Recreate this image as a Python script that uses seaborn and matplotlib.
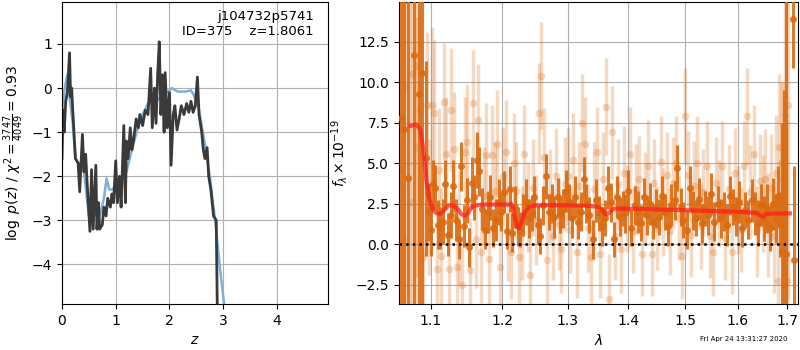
import matplotlib
matplotlib.use('Agg')
import matplotlib.pyplot as plt
import matplotlib.ticker as mticker
import seaborn as sns
import numpy as np

# p(z) curves (left panel)
z_fit = [0.00, 0.02, 0.04, 0.07, 0.10, 0.14, 0.16, 0.18, 0.20, 0.25,
         0.30, 0.33, 0.38, 0.41, 0.44, 0.47, 0.52, 0.55, 0.58, 0.63,
         0.65, 0.68, 0.70, 0.75, 0.78, 0.82, 0.85, 0.90, 0.93, 0.96,
         1.00, 1.03, 1.07, 1.10, 1.15, 1.18, 1.20, 1.23, 1.27, 1.30,
         1.33, 1.38, 1.42, 1.45, 1.50, 1.55, 1.60, 1.65, 1.68, 1.72,
         1.75, 1.78, 1.81, 1.84, 1.87, 1.90, 1.92, 1.96, 2.00, 2.03,
         2.07, 2.10, 2.14, 2.18, 2.22, 2.27, 2.32, 2.36, 2.40, 2.44,
         2.48, 2.52, 2.55, 2.60, 2.63, 2.66, 2.70, 2.73, 2.77, 2.82,
         2.87, 2.90]
logp_fit = [-1.6, -0.5, -1.0, -0.3, -0.1, 0.8, -0.2, 0.0, -0.5, -1.6,
            -1.7, -2.35, -1.05, -1.9, -1.5, -2.2, -3.25, -1.85, -3.2, -1.75,
            -3.2, -2.6, -3.2, -3.1, -2.7, -2.9, -2.5, -2.7, -2.4, -2.6,
            -1.65, -2.6, -2.0, -2.7, -0.85, -2.6, -1.2, -1.6, -0.9, -1.4,
            -1.2, -0.7, -0.9, -0.6, -0.85, -0.5, -0.6, 0.45, -0.9, 0.0,
            -0.8, 0.3, 1.05, -0.6, 0.3, -1.0, 0.35, -0.9, -0.1, -1.75,
            -0.6, -0.4, -0.95, -0.7, -0.4, -0.6, -0.35, -0.55, -0.3, -0.55,
            -0.4, 0.25, -0.6, -1.0, -1.4, -1.6, -1.35, -2.0, -2.3, -2.9,
            -3.0, -6.0]

z_phot = [0.00, 0.05, 0.10, 0.14, 0.20, 0.25, 0.30, 0.40, 0.50, 0.55,
          0.65, 0.70, 0.78, 0.83, 0.88, 0.95, 1.00, 1.10, 1.20, 1.30,
          1.40, 1.50, 1.60, 1.70, 1.80, 1.90, 2.00, 2.05, 2.15, 2.30,
          2.40, 2.45, 2.55, 2.65, 2.75, 2.85, 2.95, 3.02]
logp_phot = [-0.6, 0.0, 0.3, -0.2, -0.8, -1.6, -1.7, -1.8, -2.9, -3.0,
             -2.8, -2.9, -2.5, -2.05, -2.3, -2.3, -2.1, -2.05, -1.9, -1.4,
             -0.95, -0.6, -0.35, -0.3, -0.25, -0.15, -0.05, 0.0, -0.08, -0.08,
             -0.05, -0.15, -0.5, -1.2, -2.0, -3.0, -4.2, -4.93]

# spectrum (right panel): binned points (dark)
lam_dk = [1.061, 1.065, 1.070, 1.077, 1.084, 1.088, 1.093, 1.097, 1.100, 1.103,
          1.106, 1.109, 1.112, 1.116, 1.119, 1.123, 1.127, 1.130, 1.134, 1.138,
          1.141, 1.145, 1.149, 1.152, 1.156, 1.160, 1.163, 1.167, 1.171, 1.175,
          1.179, 1.183, 1.187, 1.191, 1.195, 1.199, 1.203, 1.207, 1.211, 1.215,
          1.219, 1.223, 1.227, 1.231, 1.235, 1.240, 1.244, 1.248, 1.253, 1.257,
          1.261, 1.266, 1.270, 1.275, 1.279, 1.284, 1.288, 1.293, 1.297, 1.302,
          1.307, 1.311, 1.316, 1.321, 1.326, 1.330, 1.335, 1.340, 1.345, 1.350,
          1.355, 1.360, 1.365, 1.370, 1.375, 1.380, 1.385, 1.390, 1.395, 1.400,
          1.405, 1.411, 1.416, 1.421, 1.426, 1.432, 1.437, 1.442, 1.448, 1.453,
          1.459, 1.464, 1.470, 1.475, 1.481, 1.486, 1.492, 1.497, 1.503, 1.509,
          1.514, 1.520, 1.526, 1.532, 1.537, 1.543, 1.549, 1.555, 1.561, 1.567,
          1.573, 1.579, 1.585, 1.591, 1.597, 1.603, 1.609, 1.615, 1.621, 1.627,
          1.634, 1.640, 1.646, 1.652, 1.658, 1.664, 1.670, 1.676, 1.681, 1.685,
          1.689, 1.693, 1.697, 1.712, 1.713]
f_dk = [7.8, 7.1, 4.1, 11.7, 9.3, 10.6, 5.3, 2.0, 0.9, 3.7,
        3.5, 1.2, 1.0, 1.4, 3.7, 0.6, 1.8, 3.6, 1.5, 0.3,
        4.8, 1.1, 2.7, -0.2, 3.8, 2.9, 5.2, 4.5, 2.2, 0.9,
        2.0, 2.9, 1.0, 1.5, 2.6, 2.0, 3.2, 0.8, 3.4, 0.7,
        2.3, 1.1, 0.9, 1.8, 2.6, 1.6, 1.9, 2.9, 1.2, 0.5,
        2.4, 4.2, 2.0, 2.5, 1.7, 2.9, 1.8, 2.2, 3.3, 2.6,
        1.6, 2.9, 1.4, 2.0, 4.0, 2.5, 1.8, 0.3, 2.7, 1.9,
        1.1, 1.6, 3.5, 2.6, 0.3, 2.9, 1.7, 2.2, 1.9, 3.3,
        1.0, 2.4, 2.0, 1.3, 2.9, 1.8, 2.5, 1.4, 2.2, 1.7,
        3.0, 2.0, 1.1, 2.4, 2.7, 4.7, 2.3, 1.5, 0.9, 3.5,
        2.1, 1.6, 2.8, 1.3, 2.2, 1.8, 3.1, 1.4, 2.5, 1.6,
        2.0, 1.2, 3.0, 2.3, 1.7, 2.6, 1.0, 2.1, 1.5, 2.7,
        1.9, 1.3, 2.4, 1.6, 2.2, 1.0, 2.5, 1.6, 3.0, 1.2,
        -0.5, -2.5, -0.6, 13.9, -1.0]
e_dk = [20, 20, 20, 20, 20, 20, 6.0, 1.8, 1.6, 1.5,
        1.4, 1.5, 1.3, 1.4, 1.5, 1.3, 1.4, 1.6, 1.3, 1.2,
        1.5, 1.3, 1.4, 1.2, 1.6, 1.4, 1.7, 1.5, 1.3, 1.2,
        1.3, 1.4, 1.2, 1.3, 1.4, 1.2, 1.3, 1.1, 1.4, 1.2,
        1.3, 1.2, 1.1, 1.3, 1.4, 1.2, 1.1, 1.3, 1.2, 1.1,
        1.2, 1.4, 1.1, 1.2, 1.3, 1.2, 1.1, 1.2, 1.3, 1.1,
        1.2, 1.3, 1.1, 1.2, 1.4, 1.2, 1.1, 1.2, 1.3, 1.1,
        1.2, 1.1, 1.3, 1.2, 1.1, 1.3, 1.2, 1.1, 1.2, 1.3,
        1.1, 1.2, 1.3, 1.1, 1.2, 1.2, 1.3, 1.1, 1.2, 1.1,
        1.2, 1.1, 1.2, 1.3, 1.2, 1.4, 1.2, 1.1, 1.2, 1.3,
        1.2, 1.1, 1.3, 1.2, 1.1, 1.2, 1.3, 1.2, 1.1, 1.2,
        1.2, 1.3, 1.2, 1.1, 1.2, 1.3, 1.2, 1.1, 1.2, 1.3,
        1.3, 1.4, 1.3, 1.4, 1.5, 1.4, 1.6, 1.5, 1.8, 2.0,
        8.0, 12.0, 20.0, 3.0, 5.8]

# spectrum: unbinned points (light)
lam_lt = [1.063, 1.067, 1.072, 1.075, 1.080, 1.082, 1.086, 1.090, 1.095, 1.098,
          1.101, 1.104, 1.108, 1.111, 1.114, 1.118, 1.121, 1.125, 1.128, 1.132,
          1.136, 1.139, 1.143, 1.147, 1.150, 1.154, 1.158, 1.162, 1.165, 1.169,
          1.173, 1.177, 1.181, 1.185, 1.189, 1.193, 1.197, 1.201, 1.205, 1.209,
          1.213, 1.217, 1.221, 1.225, 1.229, 1.233, 1.238, 1.242, 1.246, 1.250,
          1.255, 1.259, 1.263, 1.268, 1.272, 1.277, 1.281, 1.286, 1.290, 1.295,
          1.300, 1.304, 1.309, 1.314, 1.318, 1.323, 1.328, 1.333, 1.338, 1.342,
          1.347, 1.352, 1.357, 1.362, 1.367, 1.372, 1.377, 1.382, 1.387, 1.392,
          1.398, 1.403, 1.408, 1.413, 1.418, 1.424, 1.429, 1.434, 1.440, 1.445,
          1.450, 1.456, 1.461, 1.467, 1.472, 1.478, 1.483, 1.489, 1.494, 1.500,
          1.506, 1.511, 1.517, 1.523, 1.529, 1.534, 1.540, 1.546, 1.552, 1.558,
          1.564, 1.570, 1.576, 1.582, 1.588, 1.594, 1.600, 1.606, 1.612, 1.618,
          1.624, 1.631, 1.637, 1.643, 1.649, 1.655, 1.661, 1.667, 1.672, 1.677,
          1.680, 1.683, 1.686, 1.690, 1.694, 1.698, 1.701]
f_lt = [0.3, 9.7, 2.6, 10.5, 11.0, 6.0, 8.3, -0.8, 8.6, 2.3,
        8.6, 8.1, -1.5, 4.6, -0.7, 8.8, 5.6, -1.5, 8.3, 5.9,
        -1.4, 1.0, -2.5, 5.7, 6.3, -1.6, 8.7, 0.3, 7.7, -0.5,
        3.0, 5.5, -0.9, 5.5, 3.3, 6.2, -1.4, 4.2, 5.7, 0.5,
        -0.5, 5.0, 3.3, -0.8, 0.7, 5.6, 2.3, -1.9, 3.5, 1.5,
        8.1, 10.4, 5.4, -1.0, 3.0, 0.5, 4.2, 1.2, -0.3, 3.7,
        4.2, 0.9, 5.2, -0.5, 3.6, 7.5, 6.2, 1.0, -0.8, 3.4,
        5.7, -0.6, 4.0, 8.5, -3.4, 6.9, 0.5, 3.7, -0.3, 4.4,
        2.2, 5.6, 0.8, 3.4, 4.0, -0.6, 2.9, 4.8, -0.6, 3.8,
        1.0, 5.1, 2.0, 4.3, 0.8, 3.8, 5.0, 1.6, -0.7, 7.9,
        4.3, 0.6, 3.6, 5.0, 1.1, 3.2, 4.8, 0.5, -0.5, 3.8,
        2.5, 4.8, 0.4, 3.4, -0.5, 4.4, 2.1, 0.9, 4.8, 7.9,
        3.2, 5.6, 0.8, 3.9, 2.5, 4.0, 1.2, 3.5, 0.5, 4.4,
        -2.3, 6.0, 5.0, 4.0, 8.0, -2.3, 8.6]
e_lt = [20, 20, 20, 20, 20, 8, 6, 5, 4.5, 4.2,
        4.8, 4.5, 4.0, 3.8, 4.2, 3.6, 3.5, 3.4, 3.8, 3.5,
        3.2, 3.5, 3.0, 3.4, 3.6, 3.2, 3.3, 3.0, 3.4, 3.1,
        3.0, 3.2, 2.9, 3.1, 3.0, 3.3, 2.9, 3.0, 3.2, 2.8,
        2.9, 3.1, 3.0, 2.8, 2.9, 3.0, 2.8, 2.9, 3.0, 2.8,
        3.1, 3.3, 3.0, 2.8, 2.9, 2.7, 3.0, 2.8, 2.7, 2.9,
        3.0, 2.7, 2.9, 2.8, 2.7, 3.0, 2.9, 2.7, 2.8, 2.9,
        2.8, 2.7, 2.9, 3.0, 2.8, 2.9, 2.7, 2.8, 2.7, 2.9,
        2.7, 2.9, 2.6, 2.8, 2.7, 2.6, 2.8, 2.9, 2.6, 2.7,
        2.6, 2.8, 2.7, 2.6, 2.7, 2.8, 2.9, 2.6, 2.7, 3.0,
        2.7, 2.6, 2.8, 2.9, 2.6, 2.7, 2.8, 2.6, 2.7, 2.8,
        2.7, 2.8, 2.6, 2.7, 2.6, 2.8, 2.7, 2.6, 2.8, 3.0,
        2.9, 3.0, 2.8, 2.9, 3.0, 3.1, 3.2, 3.3, 3.5, 3.6,
        4.0, 4.5, 5.0, 6.0, 8.0, 10.0, 12.0]

# best-fit model
lam_model = [1.073, 1.080, 1.086, 1.090, 1.094, 1.098, 1.103, 1.108, 1.113, 1.118,
             1.124, 1.130, 1.136, 1.141, 1.146, 1.151, 1.156, 1.162, 1.170, 1.180,
             1.190, 1.200, 1.210, 1.213, 1.216, 1.219, 1.222, 1.225, 1.229, 1.234,
             1.240, 1.250, 1.270, 1.300, 1.330, 1.350, 1.356, 1.360, 1.364, 1.369,
             1.375, 1.400, 1.450, 1.500, 1.550, 1.600, 1.630, 1.640, 1.645, 1.650,
             1.655, 1.670, 1.700, 1.705]
f_model = [7.3, 7.4, 7.1, 5.8, 4.0, 2.8, 2.1, 1.9, 1.9, 2.1,
           2.4, 2.4, 2.2, 1.9, 1.75, 1.9, 2.3, 2.4, 2.45, 2.45,
           2.45, 2.45, 2.45, 2.5, 2.3, 1.6, 1.1, 1.0, 1.4, 2.0,
           2.3, 2.4, 2.42, 2.4, 2.38, 2.3, 2.15, 1.9, 1.85, 2.0,
           2.2, 2.2, 2.15, 2.1, 2.05, 2.0, 1.95, 1.9, 1.75, 1.7,
           1.85, 1.9, 1.9, 1.9]

lam_ticks = [1.1, 1.2, 1.3, 1.4, 1.5, 1.6, 1.7]
spec_color = '#db6a10'

fig = plt.figure(figsize=(8, 3.5), dpi=100)
ax1 = fig.add_axes([0.0775, 0.131, 0.3325, 0.863])
ax2 = fig.add_axes([0.49875, 0.131, 0.49875, 0.863])

# --- left: p(z)
sns.lineplot(x=z_phot, y=logp_phot, ax=ax1, color='#7fb1d8', lw=1.8,
             sort=False, estimator=None)
sns.lineplot(x=z_fit, y=logp_fit, ax=ax1, color='#3a3a3a', lw=2.0,
             sort=False, estimator=None)
ax1.set_xlim(0, 4.95)
ax1.set_ylim(-4.9, 1.95)
ax1.set_xticks([0, 1, 2, 3, 4])
ax1.set_yticks([-4, -3, -2, -1, 0, 1])
ax1.grid(True)
ax1.set_axisbelow(True)
ax1.set_xlabel('$z$')
ax1.set_ylabel(r'$\log\ p(z)$ / $\chi^2=\frac{3747}{4049}=0.93$')
ax1.text(0.947, 0.975, 'j104732p5741\nID=375    z=1.8061',
         transform=ax1.transAxes, ha='right', va='top', fontsize=9.5)

# --- right: spectrum
ax2.set_xscale('log')
ax2.errorbar(lam_lt, f_lt, yerr=e_lt, fmt='o', color=spec_color, alpha=0.25,
             ms=5.5, elinewidth=2.5, mec='none', zorder=2)
ax2.errorbar(lam_dk, f_dk, yerr=e_dk, fmt='o', color=spec_color, alpha=0.9,
             ms=5, elinewidth=2.2, mec='none', zorder=3)
sns.lineplot(x=lam_model, y=f_model, ax=ax2, color='#ff1a1a', lw=3, alpha=0.7,
             sort=False, estimator=None, zorder=4)
ax2.axhline(0, color='k', ls=':', lw=1.8, zorder=5)
ax2.set_xlim(1.058, 1.722)
ax2.set_ylim(-3.7, 14.95)
ax2.xaxis.set_major_locator(mticker.FixedLocator(lam_ticks))
ax2.xaxis.set_major_formatter(mticker.FixedFormatter([f'{t:.1f}' for t in lam_ticks]))
ax2.xaxis.set_minor_locator(mticker.NullLocator())
ax2.set_yticks([-2.5, 0.0, 2.5, 5.0, 7.5, 10.0, 12.5])
ax2.grid(True)
ax2.set_axisbelow(True)
ax2.set_xlabel(r'$\lambda$')
ax2.set_ylabel(r'$f_\lambda\times10^{-19}$')

fig.text(0.985, 0.031, 'Fri Apr 24 13:31:27 2020', ha='right', va='center', fontsize=5)

fig.savefig('out.png', dpi=100)
